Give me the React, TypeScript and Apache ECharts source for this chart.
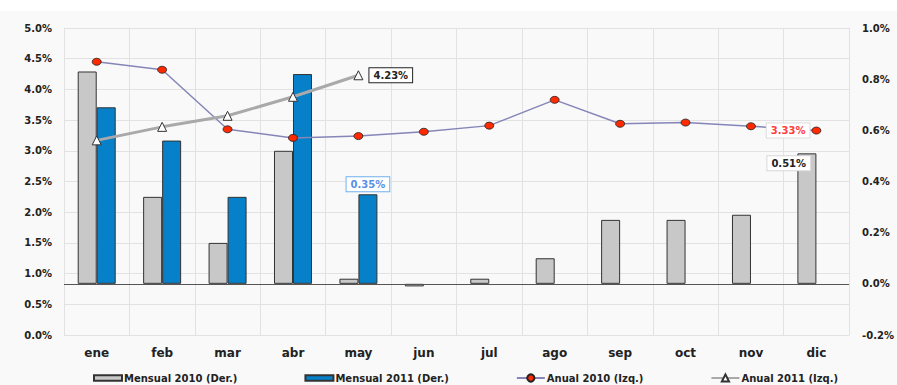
import React, { useEffect, useRef } from "react";
import * as echarts from "echarts";

const months = ["ene", "feb", "mar", "abr", "may", "jun", "jul", "ago", "sep", "oct", "nov", "dic"];
// Monthly variation (right axis, %)
const mensual2010 = [0.83, 0.34, 0.16, 0.52, 0.02, -0.01, 0.02, 0.1, 0.25, 0.25, 0.27, 0.51];
const mensual2011 = [0.69, 0.56, 0.34, 0.82, 0.35, null, null, null, null, null, null, null];
// Annual variation (left axis, %)
const anual2010 = [4.45, 4.32, 3.35, 3.21, 3.24, 3.31, 3.41, 3.83, 3.44, 3.46, 3.4, 3.33];
const anual2011 = [3.17, 3.39, 3.57, 3.88, 4.23, null, null, null, null, null, null, null];
const leftTicks = { min: 0, max: 5, interval: 0.5 };
const rightTicks = { min: -0.2, max: 1.0, interval: 0.2 };

const FONT = "DejaVu Sans";
const pct = (v: number) => v.toFixed(1) + "%";

export default function App() {
  const ref = useRef<HTMLDivElement>(null);

  useEffect(() => {
    if (!ref.current) return;
    const chart = echarts.init(ref.current, null, { renderer: "svg" });

    const m2010 = mensual2010.map((v, i) =>
      i === 11
        ? {
            value: v,
            label: {
              show: true,
              position: [-30, 3],
              formatter: v.toFixed(2) + "%",
              color: "#222",
              fontWeight: "bold",
              fontSize: 10,
              fontFamily: FONT,
              backgroundColor: "#fff",
              borderColor: "#d8d8d8",
              borderWidth: 1,
              padding: [2, 4],
            },
          }
        : v
    );
    const m2011 = mensual2011.map((v, i) =>
      i === 4
        ? {
            value: v,
            label: {
              show: true,
              position: "top",
              distance: 3,
              formatter: (v as number).toFixed(2) + "%",
              color: "#5a8fe6",
              fontWeight: "bold",
              fontSize: 10,
              fontFamily: FONT,
              backgroundColor: "#fff",
              borderColor: "#6fb0ee",
              borderWidth: 1,
              padding: [2, 4],
            },
          }
        : v
    );
    const a2010 = anual2010.map((v, i) =>
      i === 11
        ? {
            value: v,
            label: {
              show: true,
              position: "left",
              distance: 2,
              formatter: v.toFixed(2) + "%",
              color: "#ff3b3b",
              fontWeight: "bold",
              fontSize: 10,
              fontFamily: FONT,
              backgroundColor: "#fff",
              borderColor: "#dcdcdc",
              borderWidth: 1,
              padding: [2, 4],
            },
          }
        : v
    );
    const a2011 = anual2011.map((v, i) =>
      i === 4
        ? {
            value: v,
            itemStyle: { color: "#f9f9f9" },
            label: {
              show: true,
              position: "right",
              distance: 6,
              formatter: (v as number).toFixed(2) + "%",
              color: "#222",
              fontWeight: "bold",
              fontSize: 10,
              fontFamily: FONT,
              backgroundColor: "#fff",
              borderColor: "#222",
              borderWidth: 1,
              padding: [2, 4],
            },
          }
        : v
    );

    chart.setOption({
      animation: false,
      backgroundColor: "#f9f9f9",
      graphic: [
        {
          type: "rect",
          z: -10,
          shape: { x: 0, y: 0, width: 897, height: 11 },
          style: { fill: "#ffffff" },
        },
      ],
      grid: { left: 64, right: 42, top: 28, bottom: 50, containLabel: false },
      legend: {
        left: 93,
        top: 373,
        padding: 0,
        itemGap: 67,
        itemWidth: 28,
        itemHeight: 9,
        textStyle: { fontFamily: FONT, fontWeight: "bold", fontSize: 10, color: "#222", padding: [0, 0, 0, -3] },
        data: [
          { name: "Mensual 2010 (Der.)", icon: "path://M0,0h26v5h-26z" },
          { name: "Mensual 2011 (Der.)", icon: "path://M0,0h26v5h-26z" },
          { name: "Anual 2010 (Izq.)" },
          { name: "Anual 2011 (Izq.)" },
        ],
      },
      xAxis: {
        type: "category",
        data: months,
        boundaryGap: true,
        axisLine: { show: false },
        axisTick: { show: false },
        axisLabel: { fontFamily: FONT, fontWeight: "bold", fontSize: 12, color: "#222", margin: 12 },
        splitLine: { show: true, lineStyle: { color: "#e2e2e2", width: 1 } },
      },
      yAxis: [
        {
          type: "value",
          position: "left",
          min: leftTicks.min,
          max: leftTicks.max,
          interval: leftTicks.interval,
          axisLine: { show: true, lineStyle: { color: "#e2e2e2" } },
          axisTick: { show: false },
          axisLabel: { formatter: pct, fontFamily: FONT, fontWeight: "bold", fontSize: 10, color: "#222", margin: 12 },
          splitLine: { show: true, lineStyle: { color: "#e2e2e2", width: 1 } },
        },
        {
          type: "value",
          position: "right",
          min: rightTicks.min,
          max: rightTicks.max,
          interval: rightTicks.interval,
          axisLine: { show: true, lineStyle: { color: "#e2e2e2" } },
          axisTick: { show: false },
          axisLabel: { formatter: pct, fontFamily: FONT, fontWeight: "bold", fontSize: 10, color: "#222", margin: 13 },
          splitLine: { show: false },
        },
      ],
      series: [
        {
          name: "Mensual 2010 (Der.)",
          type: "bar",
          yAxisIndex: 1,
          barWidth: 19,
          barGap: "0%",
          data: m2010,
          itemStyle: { color: "#c8c8c8", borderColor: "#333", borderWidth: 1 },
          z: 2,
          markLine: {
            silent: true,
            symbol: "none",
            label: { show: false },
            lineStyle: { color: "#555", width: 1, type: "solid" },
            data: [{ yAxis: 0 }],
          },
        },
        {
          name: "Mensual 2011 (Der.)",
          type: "bar",
          yAxisIndex: 1,
          barWidth: 19,
          barGap: "0%",
          data: m2011,
          itemStyle: { color: "#0680c8", borderColor: "#333", borderWidth: 1 },
          z: 2,
        },
        {
          name: "Anual 2010 (Izq.)",
          type: "line",
          yAxisIndex: 0,
          data: a2010,
          symbol: "circle",
          symbolSize: [9, 7],
          lineStyle: { color: "#8585b8", width: 1.5 },
          itemStyle: { color: "#ff2a00", borderColor: "#222", borderWidth: 0.8 },
          z: 4,
        },
        {
          name: "Anual 2011 (Izq.)",
          type: "line",
          yAxisIndex: 0,
          data: a2011,
          symbol: "triangle",
          symbolSize: 9,
          lineStyle: { color: "#a9a9a9", width: 3 },
          itemStyle: { color: "#ffffff", borderColor: "#333", borderWidth: 1 },
          z: 5,
        },
      ],
    });

    return () => chart.dispose();
  }, []);

  return (
    <div
      ref={ref}
      style={{ position: "fixed", left: 0, top: 0, width: 897, height: 385 }}
    />
  );
}
